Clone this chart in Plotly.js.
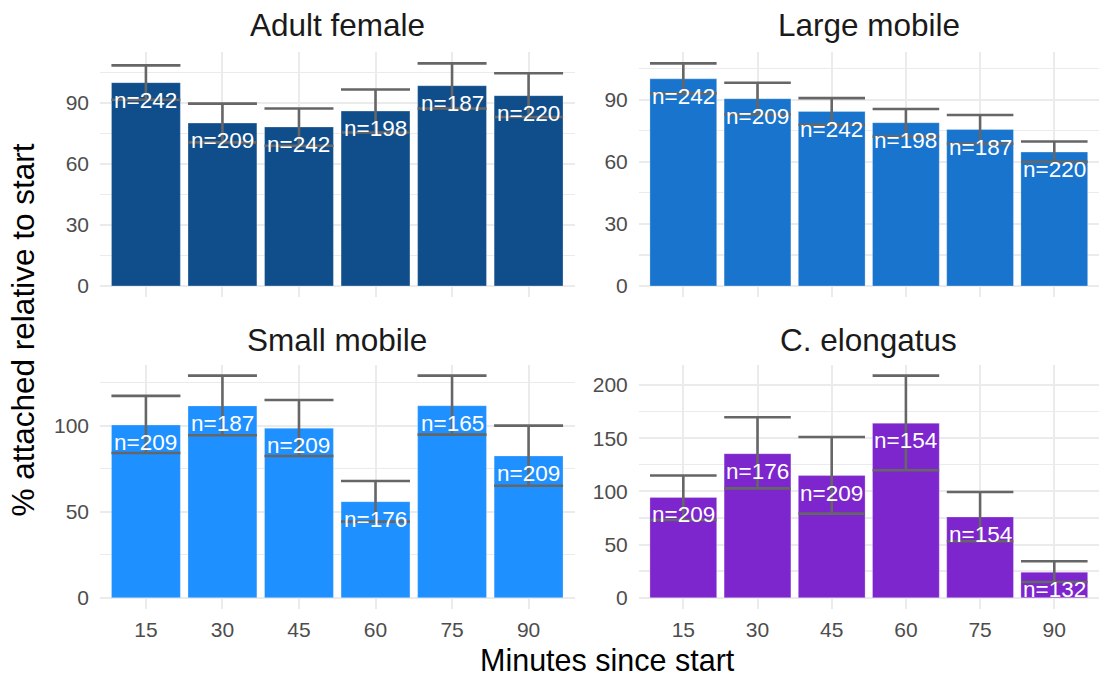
<!DOCTYPE html>
<html>
<head>
<meta charset="utf-8">
<script src="https://cdn.plot.ly/plotly-3.0.1.min.js"></script>
<style>html,body{margin:0;padding:0;background:#fff;}#chart{width:1109px;height:677px;}</style>
</head>
<body>
<div id="chart"></div>
<script>
const minutes = ['15', '30', '45', '60', '75', '90'];

const adultFemale      = [100.0, 80.1, 78.2, 86.0, 98.5, 93.6];
const adultFemaleUpper = [108.5, 89.7, 87.3, 96.6, 109.5, 104.6];
const adultFemaleLower = [91.6, 70.6, 69.0, 75.5, 87.3, 83.1];
const adultFemaleN     = [242, 209, 242, 198, 187, 220];

const largeMobile      = [100.1, 90.5, 84.3, 78.9, 75.6, 64.7];
const largeMobileUpper = [107.6, 98.2, 90.8, 85.5, 82.6, 69.8];
const largeMobileLower = [93.1, 82.9, 77.9, 72.2, 68.7, 60.0];
const largeMobileN     = [242, 209, 242, 198, 187, 220];

const smallMobile      = [100.4, 111.5, 98.5, 55.8, 111.6, 82.4];
const smallMobileUpper = [117.3, 129.1, 114.9, 67.8, 129.1, 100.0];
const smallMobileLower = [84.1, 94.4, 82.4, 44.2, 94.8, 65.1];
const smallMobileN     = [209, 187, 209, 176, 165, 209];

const cElongatus      = [94.3, 135.4, 114.8, 164.0, 75.9, 23.9];
const cElongatusUpper = [114.9, 169.6, 151.1, 208.8, 99.4, 34.2];
const cElongatusLower = [73.1, 102.8, 79.0, 119.8, 53.0, 14.8];
const cElongatusN     = [209, 176, 209, 154, 154, 132];

const panelTitles = ['Adult female', 'Large mobile', 'Small mobile', 'C. elongatus'];
const xTitle = 'Minutes since start';
const yTitle = '% attached relative to start';

const W = 1109, H = 677;
const FONT = 'Liberation Sans, Arial, Helvetica, sans-serif';
const GRID = '#EBEBEB';

const panels = [
  {vals: adultFemale, up: adultFemaleUpper, lo: adultFemaleLower, n: adultFemaleN, color: '#104E8B', dtick: 30,
   xpx: [100, 574.5], ypx: [52.2, 297.1], capw: 34.5, bottom: false},
  {vals: largeMobile, up: largeMobileUpper, lo: largeMobileLower, n: largeMobileN, color: '#1874CD', dtick: 30,
   xpx: [638.8, 1098.8], ypx: [52.2, 297.1], capw: 33.3, bottom: false},
  {vals: smallMobile, up: smallMobileUpper, lo: smallMobileLower, n: smallMobileN, color: '#1E90FF', dtick: 50,
   xpx: [100, 574.5], ypx: [364.5, 608.8], capw: 34.5, bottom: true},
  {vals: cElongatus, up: cElongatusUpper, lo: cElongatusLower, n: cElongatusN, color: '#7D26CD', dtick: 50,
   xpx: [638.8, 1098.8], ypx: [364.5, 608.8], capw: 33.3, bottom: true}
];

const data = [];
const layout = {
  width: W, height: H,
  margin: {l: 0, r: 0, t: 0, b: 0},
  paper_bgcolor: '#fff', plot_bgcolor: '#fff',
  showlegend: false,
  bargap: 0.1,
  font: {family: FONT},
  annotations: []
};

panels.forEach((p, k) => {
  const sfx = k === 0 ? '' : String(k + 1);
  const xa = 'x' + sfx, ya = 'y' + sfx;
  data.push({
    type: 'bar', x: minutes, y: p.vals, xaxis: xa, yaxis: ya,
    marker: {color: p.color, line: {color: 'rgba(255,255,255,0.45)', width: 0.6}},
    error_y: {
      type: 'data', symmetric: false,
      array: p.up.map((u, i) => u - p.vals[i]),
      arrayminus: p.lo.map((l, i) => p.vals[i] - l),
      color: '#666666', thickness: 2.6, width: p.capw
    },
    hoverinfo: 'x+y'
  });
  const m = Math.max(...p.up);
  layout['xaxis' + sfx] = {
    type: 'category', anchor: ya,
    domain: [p.xpx[0] / W, p.xpx[1] / W],
    range: [-0.6, minutes.length - 0.4],
    showgrid: true, gridcolor: GRID, gridwidth: 2,
    zeroline: false, showline: false, ticks: '',
    showticklabels: p.bottom,
    ticklabelstandoff: 6,
    tickfont: {size: 21, color: '#4D4D4D', family: FONT}
  };
  layout['yaxis' + sfx] = {
    anchor: xa,
    domain: [1 - p.ypx[1] / H, 1 - p.ypx[0] / H],
    range: [-0.05 * m, 1.05 * m],
    tick0: 0, dtick: p.dtick,
    showgrid: true, gridcolor: GRID, gridwidth: 2,
    minor: {tick0: 0, dtick: p.dtick / 2, showgrid: true, gridcolor: GRID, gridwidth: 1.2, ticks: ''},
    zeroline: false, showline: false, ticks: '',
    ticklabelstandoff: 10,
    tickfont: {size: 21, color: '#4D4D4D', family: FONT}
  };
  p.vals.forEach((v, i) => {
    // category axes take the serial index of the category for annotation positions
    layout.annotations.push({
      xref: xa, yref: ya, x: minutes.indexOf(minutes[i]), y: v,
      text: 'n=' + p.n[i], showarrow: false,
      xanchor: 'center', yanchor: 'top', yshift: -3,
      font: {size: 22.5, color: '#FFFFFF', family: FONT}
    });
  });
  layout.annotations.push({
    xref: 'paper', yref: 'paper',
    x: ((p.xpx[0] + p.xpx[1]) / 2) / W,
    y: 1 - (k < 2 ? 25.5 : 339.5) / H,
    text: panelTitles[k], showarrow: false,
    xanchor: 'center', yanchor: 'middle',
    font: {size: 31.5, color: '#1A1A1A', family: FONT}
  });
});

layout.annotations.push({
  xref: 'paper', yref: 'paper', x: 607.5 / W, y: 1 - 659.5 / H,
  text: xTitle, showarrow: false, xanchor: 'center', yanchor: 'middle', borderpad: 0,
  font: {size: 30.5, color: '#000000', family: FONT}
});
layout.annotations.push({
  xref: 'paper', yref: 'paper', x: 22.5 / W, y: 1 - 330 / H,
  text: yTitle, showarrow: false, xanchor: 'center', yanchor: 'middle', textangle: -90,
  font: {size: 31.5, color: '#000000', family: FONT}
});

Plotly.newPlot('chart', data, layout, {displayModeBar: false, staticPlot: true});
</script>
</body>
</html>
